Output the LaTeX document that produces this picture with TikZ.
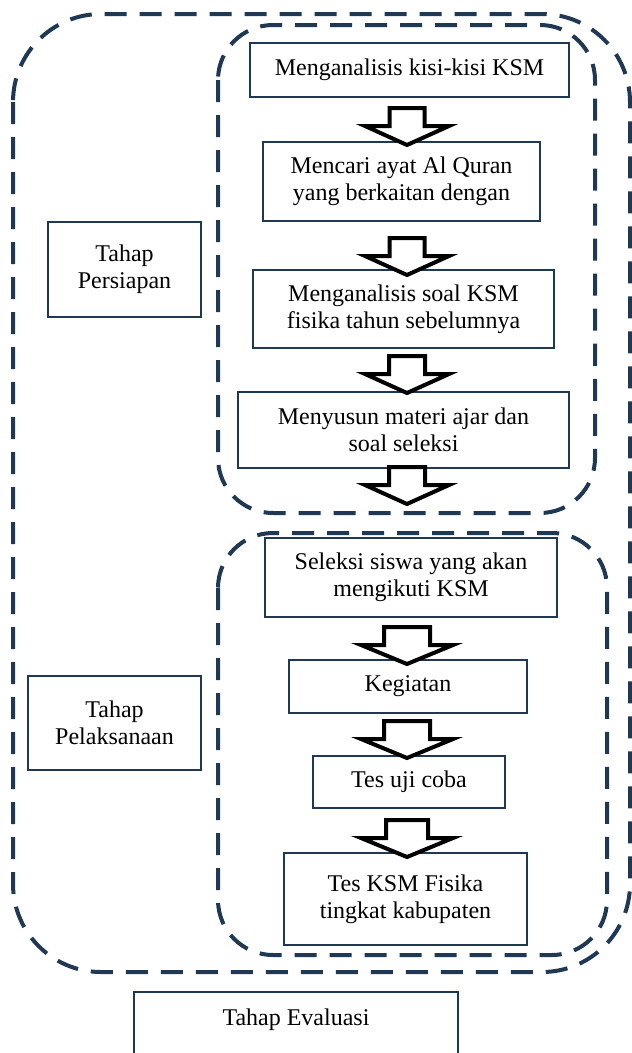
\documentclass[tikz,border=0pt]{standalone}
\usepackage{fontspec}
\setmainfont{Liberation Serif}
\definecolor{navy}{RGB}{31,56,84}
\tikzset{
  stagebox/.style={draw=navy, line width=2pt, fill=white, inner sep=0pt, align=center,
    font=\fontsize{24}{27}\selectfont, text=black},
  dashframe/.style={draw=navy, line width=4pt, dash pattern=on 22pt off 13pt},
  blockarrow/.style={draw=black, fill=white, line width=4pt, line join=miter},
}
% #1 tip coordinate, #2 stem half width, #3 head half width
\newcommand\blkarrow[3]{%
  \draw[blockarrow] (#1) -- ++(-#3,-19) -- ++(#3-#2,0) -- ++(0,-18) -- ++(2*#2,0)
    -- ++(0,18) -- ++(#3-#2,0) -- cycle;}
\begin{document}
\begin{tikzpicture}[x=1pt,y=-1pt]
\useasboundingbox (0,0) rectangle (632,1053);
\clip (0,0) rectangle (632,1053);
% dashed frames
\draw[dashframe, rounded corners=88pt] (13,14) rectangle (630,972);
\draw[dashframe, rounded corners=55pt] (218,25) rectangle (595,513);
\draw[dashframe, rounded corners=55pt] (218,533) rectangle (607,955);
% axis for arrows
\coordinate (ax) at (407,0);
% boxes
\node[stagebox, minimum width=319pt, minimum height=54pt] (b1) at (409.5,70) {Menganalisis kisi-kisi KSM};
\node[stagebox, minimum width=277pt, minimum height=79pt] (b2) at (401.5,181.5) {Mencari ayat Al Quran\\yang berkaitan dengan};
\node[stagebox, minimum width=301pt, minimum height=78pt] (b3) at (403.5,309) {Menganalisis soal KSM\\fisika tahun sebelumnya};
\node[stagebox, minimum width=331pt, minimum height=76pt] (b4) at (403.5,430) {Menyusun materi ajar dan\\soal seleksi};
\node[stagebox, minimum width=292pt, minimum height=79pt] (b5) at (411,577.5) {Seleksi siswa yang akan\\mengikuti KSM};
\node[stagebox, minimum width=238pt, minimum height=53pt] (b6) at (408,686.5) {Kegiatan};
\node[stagebox, minimum width=192pt, minimum height=52pt] (b7) at (409,782) {Tes uji coba};
\node[stagebox, minimum width=243pt, minimum height=92pt] (b8) at (405.5,899) {Tes KSM Fisika\\tingkat kabupaten};
\node[stagebox, minimum width=153pt, minimum height=95pt] (p1) at (124.5,269.5) {Tahap\\Persiapan};
\node[stagebox, minimum width=173pt, minimum height=94pt] (p2) at (114.5,723) {Tahap\\Pelaksanaan};
\draw[navy, line width=2pt] (134,1070) |- (458,992) coordinate (p3ne) -- (458,1070);
\node[font=\fontsize{24}{27}\selectfont, anchor=base] (p3) at (296,1025) {Tahap Evaluasi};
% block arrows
\coordinate (t1) at ([yshift=-4pt]b2.north -| ax);
\coordinate (t2) at ([yshift=-6pt]b3.north -| ax);
\coordinate (t3) at ([yshift=-2pt]b4.north -| ax);
\coordinate (t4) at ([yshift=-35pt]b4.south -| ax);
\coordinate (t5) at ([yshift=-5pt]b6.north -| ax);
\coordinate (t6) at ([yshift=-3pt]b7.north -| ax);
\coordinate (t7) at ([yshift=-5pt]b8.north -| ax);
\blkarrow{t1}{17.5}{42}
\blkarrow{t2}{17.5}{42}
\blkarrow{t3}{18}{42}
\blkarrow{t4}{18}{42}
\blkarrow{t5}{23}{46}
\blkarrow{t6}{23}{46}
\blkarrow{t7}{21}{46}
\end{tikzpicture}
\end{document}
